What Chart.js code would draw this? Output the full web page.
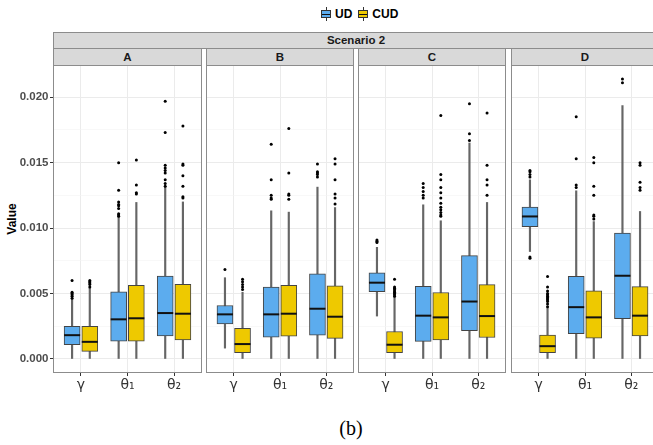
<!DOCTYPE html>
<html>
<head>
<meta charset="utf-8">
<script src="https://cdn.jsdelivr.net/npm/chart.js@4.4.0/dist/chart.umd.min.js"></script>
<style>
  body { margin: 0; width: 653px; height: 445px; overflow: hidden; background: #fff; position: relative;
         font-family: "Liberation Sans", Arial, sans-serif; }
  canvas { position: absolute; }
  .strip { position: absolute; box-sizing: border-box; background: #d9d9d9; border: 1px solid #8c8c8c;
           font-weight: bold; font-size: 11.5px; color: #1a1a1a; text-align: center; }
  #legend { position: absolute; top: 7px; left: 321px; display: flex; align-items: center;
            font-weight: bold; font-size: 12px; color: #000; }
  .key { position: relative; width: 10px; height: 14px; margin-right: 4px;
         background: linear-gradient(#333, #333) center / 1px 100% no-repeat; }
  .key::before { content: ""; position: absolute; left: 0; right: 0; top: 3px; bottom: 3px;
                 border: 1px solid #333; background: var(--c); }
  .key::after { content: ""; position: absolute; left: 1px; right: 1px; top: 7px; height: 1px; background: #111; }
  #ytitle { position: absolute; left: 12px; top: 219px; transform: translate(-50%, -50%) rotate(-90deg);
            font-weight: bold; font-size: 12px; color: #000; white-space: nowrap; }
  #caption { position: absolute; left: 351px; top: 428px; transform: translate(-50%, -50%);
             font-family: "Liberation Serif", serif; font-size: 20px; color: #000; }
</style>
</head>
<body>
<div id="legend">
  <span class="key" style="--c:#5CACEE"></span><span>UD</span>
  <span class="key" style="--c:#EEC900; margin-left:6px"></span><span>CUD</span>
</div>
<div class="strip" style="left:53px; top:32px; width:606px; height:17px; line-height:15px;">Scenario 2</div>
<div id="strips"></div>
<div id="ytitle">Value</div>
<div id="caption">(b)</div>

<script>
// ---- data ----
const panels = ['A', 'B', 'C', 'D'];
const categories = ['γ', 'θ₁', 'θ₂'];
const seriesNames = ['UD', 'CUD'];
const yGrid = [0, 0.0025, 0.005, 0.0075, 0.01, 0.0125, 0.015, 0.0175, 0.02];

// per category: [lower whisker, Q1, median, Q3, upper whisker]
const udA  = [[0, 0.00109, 0.00182, 0.00250, 0.00455], [0, 0.00136, 0.00303, 0.00513, 0.01085], [0, 0.00177, 0.00351, 0.00634, 0.01315]];
const cudA = [[0, 0.00058, 0.00131, 0.00250, 0.00540], [0, 0.00136, 0.00311, 0.00563, 0.01196], [0, 0.00146, 0.00346, 0.00571, 0.01200]];
const udB  = [[0.00083, 0.00268, 0.00341, 0.00409, 0.00621], [0, 0.00167, 0.00341, 0.00550, 0.01132], [0, 0.00182, 0.00384, 0.00651, 0.01313]];
const cudB = [[0, 0.00048, 0.00114, 0.00235, 0.00510], [0, 0.00174, 0.00346, 0.00563, 0.01122], [0, 0.00157, 0.00323, 0.00558, 0.01157]];
const udC  = [[0.00328, 0.00515, 0.00583, 0.00659, 0.00853], [0, 0.00134, 0.00331, 0.00556, 0.01178], [0, 0.00217, 0.00439, 0.00790, 0.01650]];
const cudC = [[0, 0.00048, 0.00109, 0.00210, 0.00475], [0, 0.00146, 0.00318, 0.00508, 0.01056], [0, 0.00164, 0.00328, 0.00568, 0.01196]];
const udD  = [[0.00821, 0.01010, 0.01089, 0.01160, 0.01369], [0, 0.00194, 0.00396, 0.00631, 0.01285], [0, 0.00308, 0.00636, 0.00962, 0.01936]];
const cudD = [[0, 0.00048, 0.00098, 0.00182, 0.00390], [0, 0.00159, 0.00318, 0.00520, 0.01050], [0, 0.00177, 0.00331, 0.00553, 0.01127]];

// outliers per category
const udAOut  = [[0.00465, 0.0048, 0.0049, 0.0050, 0.0051, 0.0060], [0.0109, 0.0110, 0.0111, 0.0115, 0.0117, 0.0118, 0.0120, 0.0129, 0.0150], [0.0132, 0.0134, 0.0137, 0.0142, 0.0144, 0.0146, 0.0148, 0.0173, 0.0197]];
const cudAOut = [[0.0055, 0.0057, 0.0058, 0.0059, 0.0060], [0.0126, 0.0127, 0.0133, 0.0152], [0.0123, 0.0124, 0.0132, 0.0140, 0.0148, 0.0149, 0.0178]];
const udBOut  = [[0.00684], [0.0122, 0.0123, 0.0125, 0.0137, 0.0164], [0.0139, 0.0141, 0.0142, 0.0143, 0.0149]];
const cudBOut = [[0.0053, 0.0055, 0.0057, 0.0059, 0.0061], [0.0122, 0.0125, 0.0126, 0.0142, 0.0176], [0.01185, 0.0123, 0.0126, 0.0137, 0.0149, 0.0153]];
const udCOut  = [[0.0089, 0.0090, 0.0091], [0.0123, 0.0125, 0.0128, 0.0131, 0.0134], [0.0167, 0.0172, 0.0195]];
const cudCOut = [[0.0048, 0.0049, 0.0050, 0.0051, 0.0052, 0.0053, 0.0054, 0.0055, 0.0061], [0.0109, 0.0110, 0.0112, 0.0114, 0.0116, 0.0119, 0.0123, 0.0127, 0.0131, 0.0137, 0.0141, 0.0186], [0.0125, 0.0133, 0.0137, 0.0148, 0.0188]];
const udDOut  = [[0.0077, 0.0078, 0.0139, 0.0141, 0.0143, 0.0144], [0.0131, 0.0133, 0.0153, 0.0185], [0.0211, 0.0214]];
const cudDOut = [[0.0040, 0.0042, 0.0044, 0.0045, 0.0046, 0.0047, 0.0048, 0.0049, 0.0050, 0.0052, 0.0055, 0.0063], [0.0107, 0.0109, 0.0110, 0.0125, 0.0132, 0.0150, 0.0154], [0.0129, 0.0131, 0.0135, 0.0148, 0.0150]];

const udStats = [udA, udB, udC, udD];
const cudStats = [cudA, cudB, cudC, cudD];
const udOut = [udAOut, udBOut, udCOut, udDOut];
const cudOut = [cudAOut, cudBOut, cudCOut, cudDOut];

// ---- style / layout ----
const colors = ['#5CACEE', '#EEC900'];
const dodge = [-0.19, 0.19];
const yMin = -0.00107, yMax = 0.02246;
const panelLeft = [53, 206, 358, 511];
const panelWidth = [149, 148, 148, 148];
const panelTop = 65, panelHeight = 308, xAxisHeight = 27;

Chart.defaults.font.family = '"Liberation Sans", Arial, sans-serif';

const panelBorder = {
  id: 'panelBorder',
  afterDraw(chart) {
    const a = chart.chartArea, ctx = chart.ctx;
    ctx.save();
    ctx.strokeStyle = '#8c8c8c';
    ctx.lineWidth = 1;
    ctx.strokeRect(a.left + 0.5, a.top + 0.5, a.right - a.left - 1, a.bottom - a.top - 1);
    ctx.restore();
  }
};

function buildDatasets(p) {
  const stats = [udStats[p], cudStats[p]];
  const outs = [udOut[p], cudOut[p]];
  const whiskers = [], medians = [], points = [], boxes = [];
  stats.forEach((st, s) => {
    const boxData = [];
    st.forEach((b, c) => {
      const x = c + dodge[s];
      whiskers.push({ x: x, y: [b[0], b[4]] });
      boxData.push({ x: x, y: [b[1], b[3]] });
      medians.push({ x: x, y: b[2] });
      outs[s][c].forEach(v => points.push({ x: x, y: v }));
    });
    boxes.push({
      label: seriesNames[s], data: boxData, backgroundColor: colors[s],
      borderColor: '#444', borderWidth: 1, borderSkipped: false,
      barThickness: 16, grouped: false, order: 3
    });
  });
  return [
    { label: 'whisker', data: whiskers, backgroundColor: '#666', barThickness: 1.5, grouped: false, order: 4 },
    ...boxes,
    { type: 'scatter', label: 'outlier', data: points, pointRadius: 1.5, backgroundColor: '#000', borderWidth: 0, order: 2 },
    { type: 'scatter', label: 'median', data: medians, pointStyle: 'line', pointRadius: 8, borderWidth: 2, borderColor: '#111', order: 1 }
  ];
}

panels.forEach((name, p) => {
  const showY = p === 0;
  const yAxisW = showY ? panelLeft[0] : 0;

  const strip = document.createElement('div');
  strip.className = 'strip';
  strip.style.cssText = `left:${panelLeft[p]}px; top:48px; width:${panelWidth[p]}px; height:18px; line-height:16px;`;
  strip.textContent = name;
  document.getElementById('strips').appendChild(strip);

  const cv = document.createElement('canvas');
  cv.width = panelWidth[p] + yAxisW;
  cv.height = panelHeight + xAxisHeight;
  cv.style.left = (panelLeft[p] - yAxisW) + 'px';
  cv.style.top = panelTop + 'px';
  document.body.appendChild(cv);

  new Chart(cv.getContext('2d'), {
    type: 'bar',
    data: { datasets: buildDatasets(p) },
    options: {
      responsive: false,
      animation: false,
      events: [],
      devicePixelRatio: 1,
      layout: { padding: 0, autoPadding: false },
      plugins: { legend: { display: false }, tooltip: { enabled: false } },
      scales: {
        x: {
          type: 'linear', min: -0.6, max: 2.6, offset: false,
          afterBuildTicks: s => { s.ticks = categories.map((c, i) => ({ value: i })); },
          afterFit: s => { s.height = xAxisHeight; s.paddingLeft = 0; s.paddingRight = 0; },
          grid: { offset: false, color: '#EBEBEB', lineWidth: 1, tickLength: 3, tickColor: '#333' },
          border: { display: false },
          ticks: {
            callback: v => categories[v], autoSkip: false, maxRotation: 0, padding: 1,
            color: '#333', font: { family: '"DejaVu Sans", sans-serif', size: 14 }
          }
        },
        y: {
          type: 'linear', min: yMin, max: yMax,
          afterBuildTicks: s => { s.ticks = yGrid.map(v => ({ value: v })); },
          afterFit: s => { s.width = yAxisW; s.paddingTop = 0; s.paddingBottom = 0; },
          grid: {
            color: c => c.index % 2 ? '#F3F3F3' : '#EBEBEB',
            lineWidth: c => c.index % 2 ? 0.6 : 1,
            tickColor: c => c.index % 2 ? 'rgba(0,0,0,0)' : '#333',
            tickLength: 3, drawTicks: showY
          },
          border: { display: false },
          ticks: {
            display: showY, autoSkip: false, padding: 1.5,
            callback: (v, i) => i % 2 ? '' : v.toFixed(3),
            color: '#4d4d4d', font: { size: 11.5, weight: 'bold' }
          }
        }
      }
    },
    plugins: [panelBorder]
  });
});
</script>
</body>
</html>
